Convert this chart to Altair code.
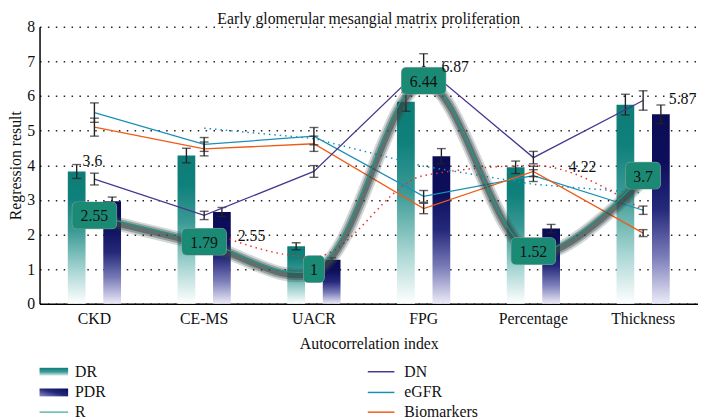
import altair as alt
import pandas as pd

# ---------------- data ----------------
cats = ["CKD", "CE-MS", "UACR", "FPG", "Percentage", "Thickness"]
dr = [3.82, 4.28, 1.66, 5.83, 3.94, 5.75]
dr_err = [0.2, 0.21, 0.1, 0.27, 0.18, 0.3]
pdr = [2.96, 2.65, 1.27, 4.26, 2.17, 5.47]
pdr_err = [0.12, 0.13, 0.06, 0.22, 0.12, 0.27]
r_vals = [2.55, 1.79, 1.0, 6.44, 1.52, 3.7]
dn = [3.6, 2.55, 3.82, 6.87, 4.22, 5.87]
dn_err = [0.17, 0.12, 0.17, 0.35, 0.18, 0.28]
egfr = [5.52, 4.6, 4.84, 3.1, 3.7, 2.7]
egfr_err = [0.28, 0.2, 0.25, 0.17, 0.17, 0.12]
bio = [5.1, 4.47, 4.62, 2.75, 3.82, 2.04]
bio_err = [0.26, 0.2, 0.22, 0.15, 0.15, 0.1]
trend_cats = ["CE-MS", "UACR", "FPG", "Percentage", "Thickness"]
trend_blue = [5.07, 4.77, 3.97, 3.45, 3.2]
trend_red = [2.13, 1.35, 3.7, 3.99, 2.7]
dn_label_cats = ["CKD", "CE-MS", "FPG", "Percentage", "Thickness"]
legend_names = ["DR", "PDR", "R", "DN", "eGFR", "Biomarkers"]
title_text = "Early glomerular mesangial matrix proliferation"

# ---------------- styles ----------------
SERIF = "Liberation Serif"
FS = 16
W, H = 668, 281
C_DN = "#4a3590"
C_EGFR = "#1a8fb5"
C_BIO = "#f05a14"
C_R = "#1a9a88"
C_ERR = "#222222"
C_BOX = "#1b8a74"

grad_dr = alt.Gradient(
    gradient="linear",
    stops=[alt.GradientStop(color="#ffffff", offset=0),
           alt.GradientStop(color="#a8d6d3", offset=0.25),
           alt.GradientStop(color="#3b9a95", offset=0.55),
           alt.GradientStop(color="#0f807b", offset=0.8),
           alt.GradientStop(color="#0e7c77", offset=1)],
    x1=0, x2=0, y1=1, y2=0)
grad_pdr = alt.Gradient(
    gradient="linear",
    stops=[alt.GradientStop(color="#ecebf8", offset=0),
           alt.GradientStop(color="#7a7cb8", offset=0.25),
           alt.GradientStop(color="#25297a", offset=0.5),
           alt.GradientStop(color="#0d0f5c", offset=0.75),
           alt.GradientStop(color="#0b0c55", offset=1)],
    x1=0, x2=0, y1=1, y2=0)
grad_dr_leg = alt.Gradient(
    gradient="linear",
    stops=[alt.GradientStop(color="#0e7c77", offset=0),
           alt.GradientStop(color="#3b9a95", offset=0.5),
           alt.GradientStop(color="#d8eeec", offset=1)],
    x1=0, x2=0, y1=0, y2=1)
grad_pdr_leg = alt.Gradient(
    gradient="linear",
    stops=[alt.GradientStop(color="#8a8cc8", offset=0),
           alt.GradientStop(color="#25297a", offset=0.5),
           alt.GradientStop(color="#0b0c55", offset=1)],
    x1=0, x2=1, y1=1, y2=0)

df = pd.DataFrame({"cat": cats, "dr": dr, "pdr": pdr, "r": r_vals, "dn": dn,
                   "egfr": egfr, "bio": bio})
for name, err in [("dr", dr_err), ("pdr", pdr_err), ("dn", dn_err),
                  ("egfr", egfr_err), ("bio", bio_err)]:
    df[name + "_lo"] = [v - e for v, e in zip(df[name], err)]
    df[name + "_hi"] = [v + e for v, e in zip(df[name], err)]
df["rlabel"] = [f"{v:g}" for v in r_vals]
df["rlen"] = [len(s) for s in df["rlabel"]]

trend = pd.DataFrame({"cat": trend_cats, "blue": trend_blue, "red": trend_red})

X = alt.X("cat:N", sort=cats, title="Autocorrelation index",
          scale=alt.Scale(type="band", domain=cats, paddingInner=0, paddingOuter=0))
YS = alt.Scale(domain=[0, 8], nice=False)


def Yq(field):
    return alt.Y(field, type="quantitative", scale=YS, title="Regression result")


base = alt.Chart(df)
layers = []

# bars
layers.append(base.mark_bar(width=18, xOffset=-18, color=grad_dr).encode(x=X, y=Yq("dr")))
layers.append(base.mark_bar(width=18, xOffset=18, color=grad_pdr).encode(x=X, y=Yq("pdr")))


def errbar(name, off):
    out = [base.mark_rule(xOffset=off, color=C_ERR, strokeWidth=1.4).encode(
        x=X, y=Yq(name + "_lo"), y2=alt.Y2(name + "_hi"))]
    for end in ("_lo", "_hi"):
        out.append(base.mark_tick(xOffset=off, color=C_ERR, thickness=1.4, size=9).encode(
            x=X, y=Yq(name + end)))
    return out


layers += errbar("dr", -18)
layers += errbar("pdr", 18)

# dotted trend lines
tb = alt.Chart(trend)
layers.append(tb.mark_line(color=C_EGFR, strokeDash=[1.5, 4], strokeWidth=1.5).encode(x=X, y=Yq("blue")))
layers.append(tb.mark_line(color="#e83030", strokeDash=[1.5, 4], strokeWidth=1.5,
                           interpolate="monotone").encode(x=X, y=Yq("red")))

# solid lines
layers.append(base.mark_line(color=C_EGFR, strokeWidth=1.3).encode(x=X, y=Yq("egfr")))
layers.append(base.mark_line(color=C_BIO, strokeWidth=1.3).encode(x=X, y=Yq("bio")))
layers.append(base.mark_line(color=C_DN, strokeWidth=1.3).encode(x=X, y=Yq("dn")))
layers += errbar("egfr", 0)
layers += errbar("bio", 0)
layers += errbar("dn", 0)

# R curve with soft shadow
for sw, op in [(14, 0.22), (10, 0.38), (6, 0.55)]:
    layers.append(base.mark_line(color="#374747", strokeWidth=sw, opacity=op, strokeCap="round",
                                 interpolate="catmull-rom", yOffset=3, xOffset=1).encode(x=X, y=Yq("r")))
layers.append(base.mark_line(color=C_R, strokeWidth=1.2, interpolate="catmull-rom").encode(x=X, y=Yq("r")))

# label boxes
U = 22.0  # px per unit for size 1936


def box_path(wpx, hpx, rpx):
    w, h, r = wpx / 2 / U, hpx / 2 / U, rpx / U
    return (f"M{-w + r:.3f},{-h:.3f} L{w - r:.3f},{-h:.3f} Q{w:.3f},{-h:.3f} {w:.3f},{-h + r:.3f} "
            f"L{w:.3f},{h - r:.3f} Q{w:.3f},{h:.3f} {w - r:.3f},{h:.3f} L{-w + r:.3f},{h:.3f} "
            f"Q{-w:.3f},{h:.3f} {-w:.3f},{h - r:.3f} L{-w:.3f},{-h + r:.3f} Q{-w:.3f},{-h:.3f} {-w + r:.3f},{-h:.3f} Z")


inner_w = {1: 14, 3: 28, 4: 38}
dom = [1, 3, 4]
outer_paths = [box_path(inner_w[k] + 7, 27, 5) for k in dom]
inner_paths = [box_path(inner_w[k], 20, 3) for k in dom]
layers.append(base.mark_point(filled=True, fill="white", stroke="#9a9a9a", strokeWidth=0.8,
                              opacity=1, size=U * U * 4).encode(
    x=X, y=Yq("r"),
    shape=alt.Shape("rlen:N", scale=alt.Scale(domain=dom, range=outer_paths), legend=None)))
layers.append(base.mark_point(filled=True, fill=C_BOX, strokeWidth=0, opacity=1, size=U * U * 4).encode(
    x=X, y=Yq("r"),
    shape=alt.Shape("rlen:N", scale=alt.Scale(domain=dom, range=inner_paths), legend=None)))
layers.append(base.mark_text(font=SERIF, fontSize=FS, color="#111", baseline="middle",
                             align="center", dy=1).encode(x=X, y=Yq("r"), text="rlabel:N"))

# DN value labels (offsets are styling)
dn_offsets = {"CKD": (-2, -18), "CE-MS": (48, 21), "FPG": (32, 1), "Percentage": (50, 10),
              "Thickness": (40, -1)}
for c in dn_label_cats:
    dx, dy = dn_offsets[c]
    layers.append(base.transform_filter(alt.datum.cat == c).mark_text(
        font=SERIF, fontSize=FS, color="#111", dx=dx, dy=dy, baseline="middle", align="center").encode(
        x=X, y=Yq("dn"), text=alt.Text("dn:Q", format="~g")))

# chart title as text above the plot
layers.append(alt.Chart(pd.DataFrame({"t": [title_text]})).mark_text(
    font=SERIF, fontSize=FS, color="#111", align="center", baseline="middle").encode(
    x=alt.value(W / 2), y=alt.value(-8), text="t:N"))

# manual legend
leg_rows = [350, 371, 391]
leg_sym_x = [(0, 29), (333, 360)]
leg_txt_x = [36, 370]
for i, nm in enumerate(legend_names):
    col, row = divmod(i, 3)
    y = leg_rows[row]
    x0, x1 = leg_sym_x[col]
    ldf = alt.Chart(pd.DataFrame({"name": [nm]}))
    if nm == "DR":
        layers.append(ldf.mark_rect(color=grad_dr_leg).encode(
            x=alt.value(x0), x2=alt.value(x1), y=alt.value(y - 4), y2=alt.value(y + 4)))
    elif nm == "PDR":
        layers.append(ldf.mark_rect(color=grad_pdr_leg).encode(
            x=alt.value(x0), x2=alt.value(x1), y=alt.value(y - 4), y2=alt.value(y + 4)))
    else:
        colr = {"R": "#5fb8a8", "DN": C_DN, "eGFR": C_EGFR, "Biomarkers": C_BIO}[nm]
        layers.append(ldf.mark_rule(color=colr, strokeWidth=1.5).encode(
            x=alt.value(x0), x2=alt.value(x1), y=alt.value(y)))
    layers.append(ldf.mark_text(font=SERIF, fontSize=FS, color="#111", align="left",
                                baseline="middle").encode(
        x=alt.value(leg_txt_x[col]), y=alt.value(y), text="name:N"))

chart = alt.layer(*layers).properties(
    width=W, height=H,
    padding={"left": 0, "top": 0, "right": 0, "bottom": 0},
).configure_view(stroke=None).configure_axis(
    labelFont=SERIF, labelFontSize=FS, labelColor="#111", titleFont=SERIF, titleFontSize=FS,
    titleFontWeight="normal", titleColor="#111", domainColor="#000", domainWidth=1.5, ticks=False,
).configure_axisX(grid=False, labelAngle=0, labelPadding=7, titlePadding=9
).configure_axisY(grid=True, gridDash=[1.5, 6.5], gridColor="#222", gridWidth=1.5, tickCount=8,
                  labelPadding=5, titlePadding=3)

chart.save("out.html", embed_options={"renderer": "svg", "actions": False})
